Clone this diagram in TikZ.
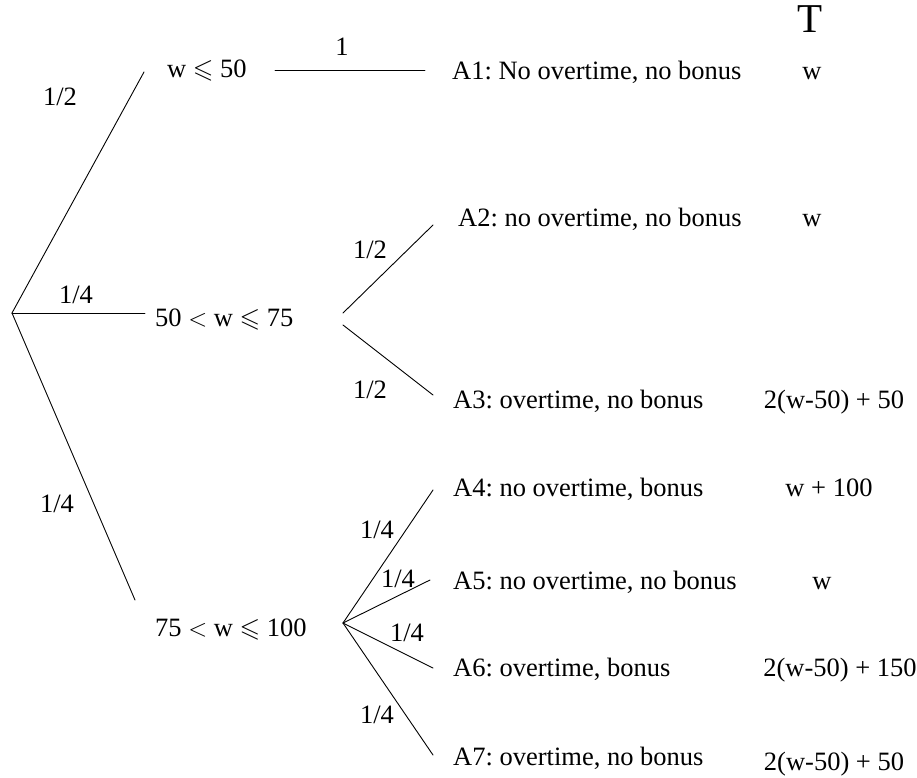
\documentclass[tikz,border=0pt]{standalone}
\usepackage{amssymb}
\usepackage{fontspec}
\setmainfont{Liberation Serif}
\frenchspacing
\newcommand{\myleq}{$\mathord{\leqslant}$}
\begin{document}
\begin{tikzpicture}[x=1pt,y=-1pt,
  txt/.style={font=\fontsize{26.5}{30}\selectfont, inner sep=0pt, anchor=base west},
  val/.style={font=\fontsize{26.5}{30}\selectfont, inner sep=0pt, anchor=base},
  prob/.style={font=\fontsize{26.5}{30}\selectfont, inner sep=0pt, anchor=base},
  edge/.style={line width=0.9pt, line cap=round}]
\useasboundingbox (0,0) rectangle (917,777);
% header
\node[val, font=\fontsize{41}{46}\selectfont] (hdr) at (810,32) {T};
% branch points and ends
\coordinate (root) at (12,313);
\coordinate (e1) at (144,72);
\coordinate (e2) at (145,313);
\coordinate (e3) at (135,600);
\coordinate (s1) at (275,70);
\coordinate (f1) at (425,70);
\coordinate (b2u) at (343,313);
\coordinate (b2d) at (343,325);
\coordinate (f2) at (433,225);
\coordinate (f3) at (433,395);
\coordinate (b3) at (343,623);
\coordinate (f4) at (433,490);
\coordinate (f5) at (430,580);
\coordinate (f6) at (433,668);
\coordinate (f7) at (433,755);
% first level nodes
\node[txt] (n1) at (167,77) {w \myleq{} 50};
\node[txt] (n2) at (155,326) {50 $<$ w \myleq{} 75};
\node[txt] (n3) at (155,636) {75 $<$ w \myleq{} 100};
% outcomes
\node[txt] (a1) at (452,79) {A1: No overtime, no bonus};
\node[txt] (a2) at (458,226) {A2: no overtime, no bonus};
\node[txt] (a3) at (453,408) {A3: overtime, no bonus};
\node[txt] (a4) at (453,496) {A4: no overtime, bonus};
\node[txt] (a5) at (453,589) {A5: no overtime, no bonus};
\node[txt] (a6) at (453,676) {A6: overtime, bonus};
\node[txt] (a7) at (453,765) {A7: overtime, no bonus};
% values
\node[val] (t1) at (812,79) {w};
\node[val] (t2) at (812,226) {w};
\node[val] (t3) at (834,408) {2(w-50) + 50};
\node[val] (t4) at (829,496) {w + 100};
\node[val] (t5) at (822,589) {w};
\node[val] (t6) at (840,676) {2(w-50) + 150};
\node[val] (t7) at (834,770) {2(w-50) + 50};
% probabilities
\node[prob] (p1) at (60,105) {1/2};
\node[prob] (p2) at (76,303) {1/4};
\node[prob] (p3) at (57,512) {1/4};
\node[prob] (p4) at (342,55) {1};
\node[prob] (p5) at (370,258) {1/2};
\node[prob] (p6) at (370,398) {1/2};
\node[prob] (p7) at (377,538) {1/4};
\node[prob] (p8) at (398,587) {1/4};
\node[prob] (p9) at (407,641) {1/4};
\node[prob] (p10) at (377,723) {1/4};
% edges
\draw[edge] (root) -- (e1);
\draw[edge] (root) -- (e2);
\draw[edge] (root) -- (e3);
\draw[edge] (s1) -- (f1);
\draw[edge] (b2u) -- (f2);
\draw[edge] (b2d) -- (f3);
\draw[edge] (b3) -- (f4);
\draw[edge] (b3) -- (f5);
\draw[edge] (b3) -- (f6);
\draw[edge] (b3) -- (f7);
\end{tikzpicture}
\end{document}
